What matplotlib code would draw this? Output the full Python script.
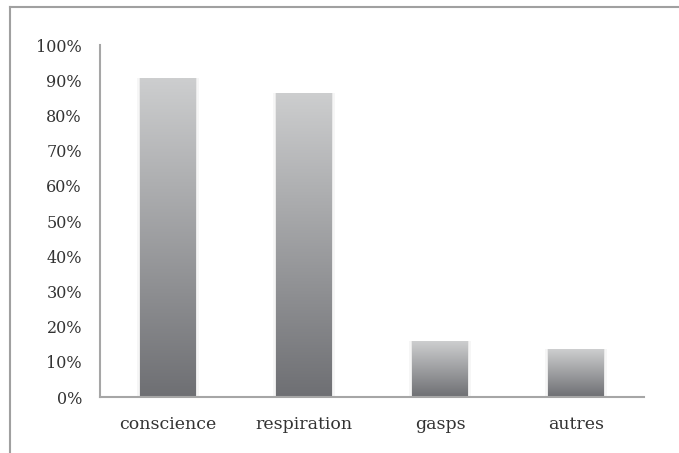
import numpy as np
import matplotlib
matplotlib.use("Agg")
import matplotlib.pyplot as plt
from matplotlib.colors import LinearSegmentedColormap
from matplotlib.lines import Line2D
from matplotlib.ticker import PercentFormatter

categories = ["conscience", "respiration", "gasps", "autres"]
values = [0.906, 0.864, 0.159, 0.136]
yticks = [0, 0.1, 0.2, 0.3, 0.4, 0.5, 0.6, 0.7, 0.8, 0.9, 1.0]

W, H = 679, 453
fig = plt.figure(figsize=(W / 100, H / 100), dpi=100)
ax = fig.add_axes([100 / W, 1 - 397 / H, 544 / W, 352 / H])

cmap = LinearSegmentedColormap.from_list("g", ["#6e6f73", "#cdcecf"])
grad = np.linspace(0, 1, 256).reshape(-1, 1)
x = np.arange(len(categories))
bars = ax.bar(x, values, width=0.41, color="none", edgecolor="none", zorder=2)
for b in bars:
    x0, y0, w, h = b.get_x(), b.get_y(), b.get_width(), b.get_height()
    # faint side shadow
    for k, a in [(0.02, 0.035), (0.01, 0.05)]:
        ax.add_patch(plt.Rectangle((x0 - k, y0), w + 2 * k, h, facecolor="#000000",
                                   alpha=a, edgecolor="none", zorder=1))
    im = ax.imshow(grad, cmap=cmap, origin="lower", aspect="auto",
                   extent=[x0, x0 + w, y0, y0 + h], zorder=2, interpolation="bilinear")
    im.set_clip_path(b)

ax.set_xlim(-0.5, len(categories) - 0.5)
ax.set_ylim(0, 1.0)
ax.set_yticks(yticks)
ax.yaxis.set_major_formatter(PercentFormatter(1.0, decimals=0))
ax.set_xticks(x)
ax.set_xticklabels(categories)
for s in ["top", "right"]:
    ax.spines[s].set_visible(False)
for s in ["left", "bottom"]:
    ax.spines[s].set_color("#a6a6a6")
    ax.spines[s].set_linewidth(1.5)
ax.tick_params(length=0, labelcolor="#333333")
ax.tick_params(axis="y", pad=13, labelsize=11.5)
ax.tick_params(axis="x", pad=14, labelsize=12.5)
for lab in ax.get_xticklabels() + ax.get_yticklabels():
    lab.set_family("DejaVu Serif")

# outer frame
fig.add_artist(Line2D([10 / W, 1.0], [1 - 7 / H, 1 - 7 / H], color="#a0a0a0", lw=1.5,
                      transform=fig.transFigure))
fig.add_artist(Line2D([10 / W, 10 / W], [1 - 7 / H, 0], color="#a0a0a0", lw=1.5,
                      transform=fig.transFigure))

fig.savefig("out.png", dpi=100)
